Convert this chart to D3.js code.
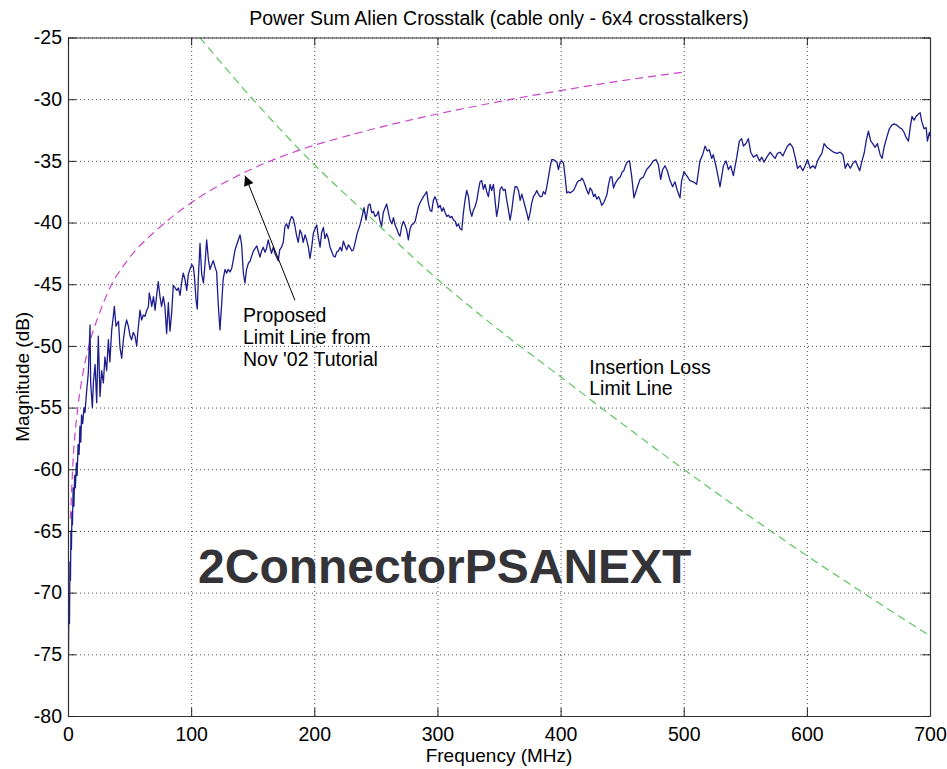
<!DOCTYPE html>
<html>
<head>
<meta charset="utf-8">
<script src="https://cdn.jsdelivr.net/npm/d3@7"></script>
<style>
  body { margin: 0; background: #fff; }
  text { font-family: "Liberation Sans", Arial, sans-serif; }
</style>
</head>
<body>
<svg id="chart"></svg>
<script>
// measured PSANEXT, frequency in MHz and magnitude in dB
const freq = [
  0.3, 0.8, 1.2, 1.6, 2.0, 2.4, 2.8, 3.2, 3.6, 4.2, 4.8, 5.4, 6.0, 6.8, 7.4, 8.2, 9.0, 9.7, 10.4, 11.0,
  11.9, 13.0, 13.8, 15.2, 16.5, 17.9, 18.4, 19.8, 20.6, 22, 23.3, 24.6, 26, 27.3, 28.7, 30, 31.4, 32.8, 34, 35.5,
  36.8, 37.6, 39, 41, 42.2, 43.6, 45, 46.3, 47.6, 49, 50.4, 51.7, 53, 54.4, 55.8, 56.6, 58.5, 59.8, 61.2, 62.5,
  64, 65.3, 66, 67.2, 68, 69.4, 70.7, 72, 73.3, 74.7, 76, 77.4, 78.7, 80.1, 81.5, 82.8, 84.2, 85.5, 87, 88.3,
  89.7, 91, 92.4, 93.6, 95, 96.4, 97.7, 99, 100.5, 101.8, 102.6, 104, 105, 105.8, 107.2, 108.6, 110, 111.3, 112.6, 114,
  115.3, 116.7, 118, 119.4, 120.7, 122, 123.4, 124.8, 126, 127.5, 128.9, 130, 131.6, 133, 134.3, 135.7, 137, 138.4, 139.7, 141,
  142.4, 143.7, 145, 146.5, 148, 149.2, 150.6, 153.3, 155.9, 157.2, 158.5, 160, 161.2, 162.6, 164, 165.3, 166.7, 168, 169.4, 170.7,
  172, 173.4, 174.8, 176.2, 177.5, 178.9, 180.2, 181.6, 183, 184.3, 185.7, 187, 188.4, 189.7, 191, 192.5, 193.8, 195.2, 196.5, 197.9,
  199.2, 200.6, 202, 203.3, 204.7, 206, 207.4, 208.7, 210, 211.4, 212.8, 214, 215.5, 216.9, 218.2, 219.6, 221, 222.3, 223.6, 225,
  226.4, 227.7, 229, 230.5, 231.8, 233.2, 234.8, 237.1, 238.6, 240.4, 242, 243.9, 245.3, 246.6, 248, 249.3, 250.7, 252, 253.4, 254.7,
  256, 257.5, 258.8, 260.2, 261.5, 263, 264.3, 265.6, 267, 268.3, 269.6, 271, 272.4, 273.7, 275, 276.4, 277.8, 279, 280.5, 281.9,
  284.6, 285.9, 288.6, 290, 291.3, 292.6, 294, 295.4, 296.7, 298, 299.5, 300.8, 302.2, 303.6, 304.9, 306.3, 307.6, 309, 310.3, 311.7,
  313, 314.4, 315.7, 317, 318.4, 319.8, 321.1, 322.4, 323.8, 325.2, 326.5, 327.9, 329.2, 330.6, 332, 333.3, 334.6, 336, 337.3, 338.7,
  340, 341.4, 342.8, 344.1, 345.5, 346.8, 348.1, 349.5, 350.9, 352.2, 353.6, 355, 356.3, 357.7, 359, 360.4, 361.7, 363, 364.4, 365.8,
  367.2, 368.5, 369.9, 371.2, 372.5, 373.9, 375.3, 376.6, 378, 379.3, 380.7, 382, 383.4, 384.8, 386, 387.5, 388.8, 390.2, 391.5, 392.8,
  394.2, 395.6, 397, 398.3, 399.7, 401, 402.4, 403.7, 405, 406.4, 407.8, 409, 410.5, 412, 413.2, 414.6, 416, 417.3, 418.6, 420,
  421.4, 422.7, 424, 425.4, 426.8, 428, 429.5, 430.9, 432.2, 433.4, 435, 436.3, 437.7, 439, 440.4, 441.7, 443, 444.5, 445.8, 447.2,
  448.5, 450, 451.3, 452.7, 454, 456, 457.8, 459.6, 461.8, 464.5, 467.2, 469.9, 472.6, 475.3, 477.5, 479.4, 481.3, 482.9, 484.8, 486.7,
  488.9, 491, 492.9, 494.8, 497, 498.3, 500.2, 502.4, 505, 507.8, 510.5, 513.2, 515.4, 517.3, 519.2, 520.8, 522.7, 524, 526.8, 529.5,
  532.2, 534.4, 536.3, 538.2, 540.3, 543.1, 545.2, 547, 548.5, 550.6, 552.5, 554.4, 556.6, 559.3, 561.5, 563.4, 565.3, 567.5, 570.2, 572.4,
  574.2, 576.1, 578.3, 580.5, 582.3, 584.3, 586.4, 588.6, 590.5, 592.4, 594.6, 596.7, 598.6, 600.5, 602.7, 604.9, 606.8, 608.7, 610.3, 612.2,
  614, 616.3, 619, 621.7, 624.4, 627.1, 629.3, 631.2, 633.1, 635.3, 637.4, 639.3, 641.2, 642.9, 644.8, 646.7, 648.3, 650, 651.9, 653.5,
  655.4, 657.3, 659.5, 661.1, 662.7, 664.9, 667, 669, 670.9, 673, 675.2, 677.1, 679, 680.6, 682.5, 683.9, 685.4, 687.1, 688.7, 690.6,
  692, 693.3, 695.2, 696.9, 697.9, 699.5, 700
];
const psanext = [
  -75.5, -70.5, -72.5, -67.5, -69, -65, -66.5, -63.5, -64.5, -61.5, -63, -60.5, -61.5, -59.5, -60.5, -58, -58.8, -56.5, -57.8, -55.6,
  -56.3, -55, -55.4, -53.6, -52.2, -48.3, -53, -55, -53, -51.5, -54.6, -49.2, -54.1, -52, -53, -50.9, -52, -49.5, -51.3, -48.7,
  -47.6, -46.8, -48.4, -48, -50.1, -51, -49.5, -48.5, -47.9, -48.4, -49.2, -49.5, -48.9, -49.2, -50, -49, -47.1, -47.9, -47.5, -47.6,
  -47.1, -46.8, -45.7, -46.3, -46.8, -46, -47.1, -45.9, -44.8, -46, -46.8, -46, -46.8, -49, -46.5, -48.8, -47.3, -45.1, -45.3, -45.5,
  -45.3, -45.9, -44.8, -44.1, -44.6, -45.5, -44.2, -43.8, -43.4, -43.6, -44.3, -46.3, -47, -44.6, -41.7, -44.2, -44.9, -43.3, -41.4, -43,
  -43.8, -43.4, -43.1, -43.6, -44, -46.6, -48.7, -46.6, -44.6, -43.8, -44.1, -43.8, -44, -43.7, -43, -42.2, -41.8, -41.4, -41, -41.8,
  -44.1, -44.9, -43.8, -43.3, -43.1, -42.7, -42.3, -41.9, -42.8, -42.3, -42, -42.4, -42.1, -41.4, -42, -42.5, -42, -42.5, -42.8, -43.1,
  -42.2, -42, -41.6, -40.3, -40.1, -40.5, -39.9, -39.5, -39.7, -40.3, -41.1, -41.6, -40.6, -40.9, -41.6, -41, -41.4, -42, -42.9, -42,
  -40.9, -40.5, -40.2, -41.2, -42, -40.8, -40.4, -41.3, -40.9, -41.3, -42, -42.3, -42.7, -42.8, -42.4, -42.3, -42, -42.3, -41.5, -41.9,
  -42.2, -41.8, -42, -42.3, -42.2, -41.6, -40.9, -40.2, -39.6, -38.8, -39.8, -38.6, -38.5, -39.2, -39.1, -39.5, -39.4, -39.1, -39.9, -40.3,
  -39.2, -38.8, -38.5, -39.2, -39.8, -40.1, -39.6, -40.2, -40.5, -40.9, -41.1, -40.3, -39.9, -40.2, -40.6, -41.4, -40.5, -40.2, -40.1, -39.9,
  -38.7, -38.4, -37.9, -37.7, -37.5, -38.4, -39, -39.1, -38.2, -37.9, -38.3, -38.8, -38.6, -39.1, -38.8, -39.2, -39.5, -39.4, -39.6, -39.5,
  -39.8, -39.9, -40.3, -40.1, -40.5, -40.6, -39.2, -38.2, -37.4, -37.9, -39, -39.5, -39, -38.7, -38.2, -37.4, -36.7, -36.6, -37.3, -36.9,
  -37.5, -37.9, -36.9, -37.4, -36.9, -38.2, -39.5, -38.7, -37.3, -37.1, -37.4, -37.3, -38.2, -39, -39.8, -39, -37.9, -37.1, -37.1, -37.4,
  -38.2, -37.7, -38.2, -38.7, -39.2, -39.8, -39.2, -38.4, -37.9, -37.7, -37.4, -37.7, -37.9, -37.9, -37.5, -37.7, -37.1, -36.3, -35.5, -34.9,
  -34.9, -35, -35.1, -35.7, -35.1, -35, -35.2, -36.3, -37.6, -37.5, -37.6, -37.5, -37.4, -37.1, -36.8, -36.6, -36.6, -36.4, -36.6, -37,
  -37.4, -37.7, -37.2, -37.4, -37.9, -37.7, -38.1, -37.9, -38.2, -38.6, -38.4, -38.1, -37.7, -36.9, -36.3, -36.3, -37.2, -36.8, -36.6, -36.4,
  -36.3, -35.9, -35.8, -35.4, -35.1, -35, -36.3, -38, -37.3, -36.5, -36.3, -35.7, -35.4, -35, -34.9, -35.3, -36.5, -35.7, -35.4, -35.8,
  -36.6, -37.1, -36.7, -37.4, -38, -36.6, -35.9, -36.2, -36.6, -36.7, -36.9, -35, -34.5, -33.8, -34.2, -34.1, -34.8, -34.5, -35.7, -37.1,
  -35.4, -35, -35.7, -35.4, -36.2, -34.7, -33.4, -33.2, -33.8, -33.6, -33.2, -34.3, -34.7, -34.5, -35, -34.7, -35.1, -34.7, -34.3, -34.6,
  -34.8, -34.4, -34.3, -34.6, -34.2, -33.8, -33.6, -33.9, -34.7, -35.6, -35.4, -35.8, -35.4, -34.9, -35.6, -35.4, -35.6, -35, -34.7, -34.4,
  -33.6, -33.9, -34.1, -34.3, -34.4, -34.3, -34.5, -35.6, -35.2, -35.6, -35.2, -35, -35.4, -35.8, -35, -34.3, -33.3, -32.6, -33.4, -33.6,
  -33.9, -33.6, -34.5, -34.8, -33.9, -33.1, -32.4, -32.1, -32, -32.1, -32.3, -32.4, -32.7, -33.1, -33.4, -32.3, -31.4, -31.7, -31.4, -31.2,
  -31.1, -31.8, -32.4, -32.3, -33.4, -32.7, -33
];

// proposed limit line (Nov '02 tutorial)
const limitFreq = [2, 4, 8, 12, 18, 25, 34, 48, 72, 100, 142, 183, 237, 300, 350, 400, 450, 500];
const limitDb = [-64, -59.5, -55, -52.3, -49.6, -47.5, -45.3, -43.1, -40.6, -38.4, -36, -34.3, -32.7, -31.2, -30.2, -29.3, -28.5, -27.8];

// insertion loss limit line
const ilFreq = [107, 150, 194, 250, 300, 350, 400, 450, 500, 600, 700];
const ilDb = [-25, -30, -34.7, -40, -44.6, -48.7, -52.5, -56.3, -60, -67, -73.5];

const xTicks = [0, 100, 200, 300, 400, 500, 600, 700];
const yTicks = [-80, -75, -70, -65, -60, -55, -50, -45, -40, -35, -30, -25];

class MagnitudePlot {

    constructor( config ){
        this.config = {
            parent: config.parent,
            width: config.width || 947,
            height: config.height || 769,
            margin: config.margin || {top:37.5, right:17, bottom:53, left:68},
            title: config.title || '',
        }
        this.init();
    }

    init(){
        let self = this;

        self.svg = d3.select( self.config.parent )
            .attr('width', self.config.width)
            .attr('height', self.config.height);

        self.inner_width = self.config.width - self.config.margin.left - self.config.margin.right;
        self.inner_height = self.config.height - self.config.margin.top - self.config.margin.bottom;

        self.chart = self.svg.append('g')
            .attr('transform', `translate(${self.config.margin.left}, ${self.config.margin.top})`);

        self.x = d3.scaleLinear().domain([0, 700]).range([0, self.inner_width]);
        self.y = d3.scaleLinear().domain([-80, -25]).range([self.inner_height, 0]);

        self.svg.append('defs').append('clipPath')
            .attr('id', 'plot-clip')
            .append('rect')
            .attr('width', self.inner_width)
            .attr('height', self.inner_height);

        self.svg.select('defs').append('marker')
            .attr('id', 'arrow-head')
            .attr('viewBox', '0 0 10 10')
            .attr('refX', 10).attr('refY', 5)
            .attr('markerUnits', 'userSpaceOnUse')
            .attr('markerWidth', 15).attr('markerHeight', 10)
            .attr('orient', 'auto')
            .append('path')
            .attr('d', 'M0,0 L10,5 L0,10 Z')
            .attr('fill', '#000');

        self.svg.append('text')
            .style('font-size', '19.5px')
            .attr('text-anchor', 'middle')
            .attr('x', self.config.margin.left + self.inner_width/2)
            .attr('y', 25)
            .text( self.config.title );
    }

    render(){
        let self = this;
        const W = self.inner_width, H = self.inner_height;

        // dotted grid
        self.chart.append('g')
            .attr('class', 'grid')
            .attr('transform', `translate(0, ${H})`)
            .call(d3.axisBottom(self.x).tickValues(xTicks).tickSize(-H).tickFormat(''));
        self.chart.append('g')
            .attr('class', 'grid')
            .call(d3.axisLeft(self.y).tickValues(yTicks).tickSize(-W).tickFormat(''));
        self.chart.selectAll('.grid .domain').remove();
        self.chart.selectAll('.grid line')
            .attr('stroke', '#000')
            .attr('stroke-opacity', 0.7)
            .attr('stroke-dasharray', '1,3');

        const plot = self.chart.append('g').attr('clip-path', 'url(#plot-clip)');

        const line = d3.line()
            .x( d => self.x(d[0]) )
            .y( d => self.y(d[1]) );
        const smooth = d3.line()
            .x( d => self.x(d[0]) )
            .y( d => self.y(d[1]) )
            .curve(d3.curveMonotoneX);

        plot.append('path')
            .datum( ilFreq.map((f, i) => [f, ilDb[i]]) )
            .attr('d', smooth)
            .attr('fill', 'none')
            .attr('stroke', '#5cc65c')
            .attr('stroke-width', 1.2)
            .attr('stroke-dasharray', '8,5');

        plot.append('path')
            .datum( limitFreq.map((f, i) => [f, limitDb[i]]) )
            .attr('d', smooth)
            .attr('fill', 'none')
            .attr('stroke', '#cc44cc')
            .attr('stroke-width', 1.2)
            .attr('stroke-dasharray', '8,5');

        plot.append('path')
            .datum( freq.map((f, i) => [f, psanext[i]]) )
            .attr('d', line)
            .attr('fill', 'none')
            .attr('stroke', '#1c1c8c')
            .attr('stroke-width', 1.3)
            .attr('stroke-linejoin', 'round');

        // box and inward ticks on all four sides, plain hyphen for negatives
        const tick = 8;
        const fmt = d => String(d);
        const bottom = self.chart.append('g')
            .attr('transform', `translate(0, ${H})`)
            .call(d3.axisBottom(self.x).tickValues(xTicks).tickFormat(fmt).tickSizeInner(-tick).tickSizeOuter(0).tickPadding(11));
        const left = self.chart.append('g')
            .call(d3.axisLeft(self.y).tickValues(yTicks).tickFormat(fmt).tickSizeInner(-tick).tickSizeOuter(0).tickPadding(6));
        const top = self.chart.append('g')
            .call(d3.axisTop(self.x).tickValues(xTicks).tickSizeInner(-tick).tickSizeOuter(0).tickFormat(''));
        const right = self.chart.append('g')
            .attr('transform', `translate(${W}, 0)`)
            .call(d3.axisRight(self.y).tickValues(yTicks).tickSizeInner(-tick).tickSizeOuter(0).tickFormat(''));

        [bottom, left, top, right].forEach( g => {
            g.select('.domain').attr('stroke', '#333').attr('stroke-width', 1.2);
            g.selectAll('.tick line').attr('stroke', '#222');
            g.selectAll('text')
                .style('font-size', '19.5px')
                .style('font-family', '"Liberation Sans", Arial, sans-serif')
                .attr('fill', '#000');
        });
        bottom.selectAll('text').attr('dy', '0.71em');

        // axis labels
        self.svg.append('text')
            .style('font-size', '19px')
            .attr('text-anchor', 'middle')
            .attr('x', self.config.margin.left + W/2)
            .attr('y', 762)
            .text('Frequency (MHz)');
        self.svg.append('text')
            .style('font-size', '19px')
            .attr('text-anchor', 'middle')
            .attr('transform', `translate(29, ${self.config.margin.top + H/2}) rotate(-90)`)
            .text('Magnitude (dB)');

        // annotation arrow pointing to the proposed limit line
        self.chart.append('line')
            .attr('x1', self.x(184.3)).attr('y1', self.y(-46.3))
            .attr('x2', self.x(143.8)).attr('y2', self.y(-36.2))
            .attr('stroke', '#000')
            .attr('stroke-width', 1)
            .attr('marker-end', 'url(#arrow-head)');

        const note = self.chart.append('text')
            .style('font-size', '19.5px')
            .attr('x', self.x(142.1))
            .attr('y', self.y(-48.05));
        ['Proposed', 'Limit Line from', "Nov '02 Tutorial"].forEach( (s, i) => {
            note.append('tspan').attr('x', self.x(142.1)).attr('dy', i ? 22 : 0).text(s);
        });

        const il = self.chart.append('text')
            .style('font-size', '19.5px')
            .attr('x', self.x(423.3))
            .attr('y', self.y(-52.27));
        ['Insertion Loss', 'Limit Line'].forEach( (s, i) => {
            il.append('tspan').attr('x', self.x(423.3)).attr('dy', i ? 21.5 : 0).text(s);
        });

        self.chart.append('text')
            .style('font-size', '48px')
            .style('font-weight', 'bold')
            .attr('fill', '#333338')
            .attr('x', self.x(105.6))
            .attr('y', self.y(-69.2))
            .text('2ConnectorPSANEXT');
    }
}

const chart = new MagnitudePlot({
    parent: '#chart',
    title: 'Power Sum Alien Crosstalk (cable only - 6x4 crosstalkers)'
});
chart.render();
</script>
</body>
</html>
